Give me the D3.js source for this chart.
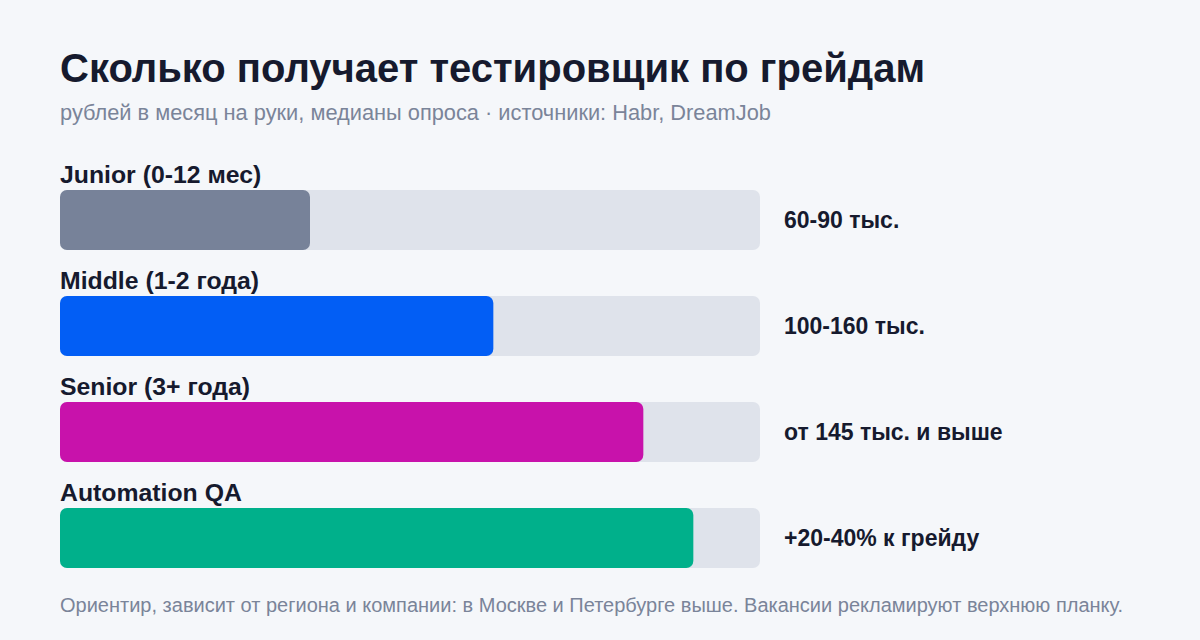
<!DOCTYPE html>
<html>
<head>
<meta charset="utf-8">
<script src="https://cdn.jsdelivr.net/npm/d3@7"></script>
<style>
  html, body { margin: 0; padding: 0; background: #f5f7fa; }
  svg { display: block; font-family: "Liberation Sans", Arial, sans-serif; }
</style>
</head>
<body>
<div class="chart"></div>
<script>
var grades = ["Junior (0-12 мес)", "Middle (1-2 года)", "Senior (3+ года)", "Automation QA"];
var values = [75, 130, 175, 190];
var valueLabels = ["60-90 тыс.", "100-160 тыс.", "от 145 тыс. и выше", "+20-40% к грейду"];
var colors = ["#778299", "#025ef5", "#c812ab", "#00b08b"];

var w = 1200;
var h = 640;

var x = d3.scaleLinear()
          .domain([0, 210])
          .range([60, 760]);

// 4 rows, 60px bars every 106px
var y = d3.scaleBand()
          .domain(grades)
          .range([190, 568])
          .paddingInner(46 / 106)
          .paddingOuter(0);

var svg = d3.select(".chart")
            .append("svg")
            .attr("width", w)
            .attr("height", h);

svg.append("rect")
   .attr("width", w)
   .attr("height", h)
   .attr("fill", "#f5f7fa");

// Title and subtitle
svg.append("text")
   .attr("x", 60)
   .attr("y", 82)
   .attr("font-size", 40)
   .attr("font-weight", "bold")
   .attr("fill", "#161a2e")
   .text("Сколько получает тестировщик по грейдам");

svg.append("text")
   .attr("x", 60)
   .attr("y", 120)
   .attr("font-size", 21.8)
   .attr("fill", "#7a8499")
   .text("рублей в месяц на руки, медианы опроса · источники: Habr, DreamJob");

var rows = svg.selectAll("g.row")
              .data(grades)
              .enter()
              .append("g")
              .attr("class", "row");

// Background track
rows.append("rect")
    .attr("x", x(0))
    .attr("y", function(d) { return y(d); })
    .attr("width", x(210) - x(0))
    .attr("height", y.bandwidth())
    .attr("rx", 7)
    .attr("fill", "#dfe3eb");

// Value bar
rows.append("rect")
    .attr("x", x(0))
    .attr("y", function(d) { return y(d); })
    .attr("width", function(d, i) { return x(values[i]) - x(0); })
    .attr("height", y.bandwidth())
    .attr("rx", 7)
    .attr("fill", function(d, i) { return colors[i]; });

// Grade label above bar
rows.append("text")
    .attr("x", 60)
    .attr("y", function(d) { return y(d) - 7; })
    .attr("font-size", 24.8)
    .attr("font-weight", "bold")
    .attr("fill", "#161a2e")
    .text(function(d) { return d; });

// Value label right of track
rows.append("text")
    .attr("x", x(210) + 24)
    .attr("y", function(d) { return y(d) + y.bandwidth() / 2 + 8; })
    .attr("font-size", 23)
    .attr("font-weight", "bold")
    .attr("fill", "#161a2e")
    .text(function(d, i) { return valueLabels[i]; });

svg.append("text")
   .attr("x", 60)
   .attr("y", 612)
   .attr("font-size", 20)
   .attr("fill", "#7a8499")
   .text("Ориентир, зависит от региона и компании: в Москве и Петербурге выше. Вакансии рекламируют верхнюю планку.");
</script>
</body>
</html>
